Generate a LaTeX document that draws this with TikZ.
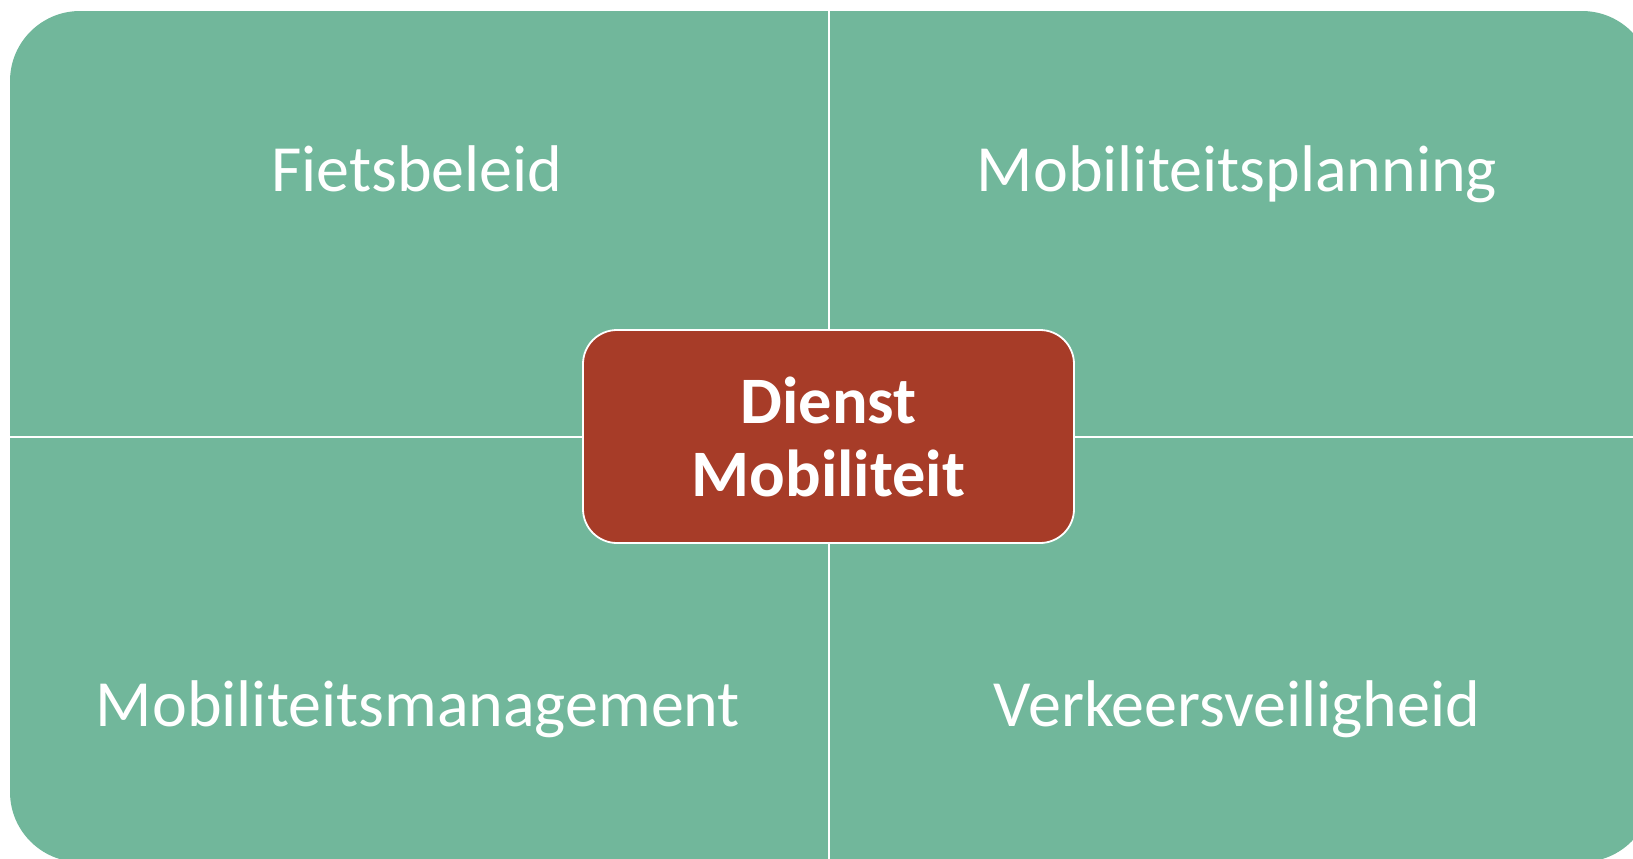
\documentclass[tikz,border=0pt]{standalone}
\usepackage{fontspec}
\setmainfont{Carlito}
\definecolor{quadgreen}{RGB}{113,183,155}
\definecolor{hubred}{RGB}{167,60,40}
\tikzset{
  quadlabel/.style={text=white, font=\fontsize{33}{40}\selectfont, inner sep=0pt, anchor=base},
  hubbox/.style={fill=hubred, draw=white, line width=0.9pt, rounded corners=17pt,
    minimum width=245.5pt, minimum height=106.5pt, inner sep=0pt,
    text=white, font=\bfseries\fontsize{33.2}{36.5}\selectfont, align=center},
  divider/.style={draw=white, line width=1pt}
}
\begin{document}
\begin{tikzpicture}[x=0.5pt,y=-0.5pt]
\useasboundingbox (0,0) rectangle (1633,858);
\clip (0,0) rectangle (1633,858);
\fill[quadgreen, rounded corners=35pt] (10,11) rectangle (1652,862);
\coordinate (vtop) at (829,11);
\coordinate (vbot) at (829,862);
\coordinate (hleft) at (10,437);
\coordinate (hright) at (1652,437);
\draw[divider] (vtop) -- (vbot);
\draw[divider] (hleft) -- (hright);
\node[hubbox] (hub) at (828.5,436.5) {Dienst\\Mobiliteit};
\node[quadlabel] (fiets) at (417,191) {Fietsbeleid};
\node[quadlabel] (plan) at (1237,191) {Mobiliteitsplanning};
\node[quadlabel] (mgmt) at (418,726) {Mobiliteitsmanagement};
\node[quadlabel] (veilig) at (1237,726) {Verkeersveiligheid};
\end{tikzpicture}
\end{document}
